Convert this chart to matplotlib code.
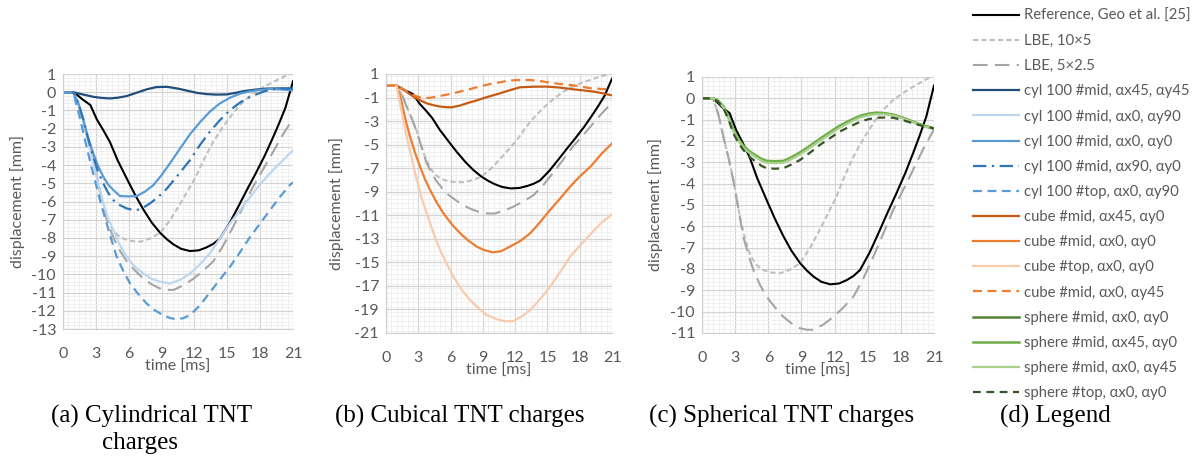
import matplotlib
matplotlib.use("Agg")
import matplotlib.pyplot as plt
from matplotlib.ticker import MultipleLocator

plt.rcParams['axes.unicode_minus'] = False
plt.rcParams['font.family'] = ['Lato', 'DejaVu Sans']

# reference and LBE curves (shared by all panels)
ref_t = [0, 1.0, 1.8, 2.5, 3.1, 3.7, 4.3, 5.0, 5.85, 6.6, 7.35, 8.1, 8.87, 9.5, 10.1, 10.8, 11.6, 12.4,
         13.1, 13.7, 14.3, 15.2, 16.1, 16.8, 17.6, 18.4, 19.1, 19.7, 20.3, 21]
ref_d = [0, 0, -0.4, -0.7, -1.5, -2.1, -2.75, -3.75, -4.77, -5.65, -6.45, -7.15, -7.72, -8.08, -8.36, -8.6,
         -8.72, -8.68, -8.52, -8.33, -8.05, -7.2, -6.17, -5.35, -4.45, -3.5, -2.58, -1.75, -0.86, 0.6]
lbe1_t = [0, 1.0, 1.5, 1.93, 2.4, 2.83, 3.44, 3.9, 4.4, 5.0, 5.55, 6.3, 7.06, 7.9, 8.87, 9.8, 10.65, 11.4,
          12.16, 12.9, 13.7, 14.6, 15.5, 16.4, 17.3, 18.2, 19.1, 20.0, 21]
lbe1_d = [0, 0, -0.8, -1.8, -2.8, -3.8, -5.6, -6.6, -7.4, -7.85, -8.05, -8.17, -8.2, -8.05, -7.72, -7.0,
          -6.17, -5.4, -4.61, -3.65, -2.74, -1.9, -1.17, -0.55, -0.08, 0.25, 0.54, 0.8, 1.1]
lbe2_t = [0, 1.0, 1.5, 1.93, 2.4, 2.83, 3.3, 3.74, 4.2, 4.65, 5.25, 5.85, 6.6, 7.36, 8.1, 8.87, 9.5, 10.1,
          11.0, 11.9, 12.8, 13.7, 14.6, 15.5, 16.4, 17.3, 18.2, 19.1, 20.0, 21]
lbe2_d = [0, 0, -0.8, -1.8, -2.8, -3.85, -5.2, -6.5, -7.35, -8.05, -8.75, -9.3, -9.8, -10.24, -10.55, -10.78,
          -10.85, -10.85, -10.6, -10.24, -9.8, -9.3, -8.45, -7.43, -6.35, -5.24, -4.3, -3.36, -2.4, -1.45]

# cylindrical charges
cyl45_t = [0, 0.94, 1.8, 2.77, 3.5, 4.29, 5.0, 5.82, 6.7, 7.64, 8.5, 9.47, 10.5, 11.6, 12.3, 13.1, 14.0,
           14.95, 15.7, 16.5, 17.5, 18.6, 19.8, 21]
cyl45_d = [0, 0, -0.12, -0.25, -0.31, -0.34, -0.3, -0.21, -0.03, 0.16, 0.28, 0.3, 0.2, 0.05, -0.04, -0.1,
           -0.13, -0.12, -0.04, 0.06, 0.14, 0.2, 0.21, 0.21]
cyl90_t = [0, 0.94, 1.4, 1.86, 2.3, 2.77, 3.2, 3.68, 4.1, 4.6, 5.2, 5.82, 6.5, 7.33, 8.1, 8.86, 9.77, 10.7,
           11.6, 12.5, 13.4, 14.3, 15.25, 16.2, 17.1, 18.0, 18.9, 19.8, 20.7, 21]
cyl90_d = [0, 0, -0.6, -1.5, -2.7, -3.9, -5.0, -6.1, -6.9, -7.57, -8.4, -9.03, -9.55, -9.95, -10.25, -10.4,
           -10.5, -10.3, -9.95, -9.45, -8.85, -8.05, -7.2, -6.45, -5.74, -5.05, -4.45, -3.9, -3.36, -3.2]
cyl00_t = [0, 0.94, 1.4, 1.86, 2.3, 2.77, 3.2, 3.68, 4.1, 4.6, 5.2, 6.0, 6.73, 7.5, 8.25, 9.0, 9.77, 10.7,
           11.6, 12.5, 13.4, 14.3, 15.25, 16.2, 17.1, 18.0, 18.9, 20.0, 21]
cyl00_d = [0, 0, -0.6, -1.53, -2.5, -3.36, -4.05, -4.64, -5.05, -5.37, -5.7, -5.72, -5.7, -5.45, -5.1, -4.55,
           -3.9, -3.08, -2.3, -1.65, -1.07, -0.62, -0.3, -0.07, 0.05, 0.13, 0.18, 0.15, 0.1]
cylx90_t = [0, 0.94, 1.4, 1.86, 2.3, 2.77, 3.2, 3.68, 4.1, 4.6, 5.2, 5.82, 6.3, 6.73, 7.3, 7.95, 8.7, 9.47,
            10.5, 11.6, 12.5, 13.4, 14.3, 15.25, 16.2, 17.1, 18.0, 18.9, 20.0, 21]
cylx90_d = [0, 0, -0.6, -1.5, -2.55, -3.54, -4.35, -5.0, -5.5, -5.92, -6.2, -6.38, -6.45, -6.47, -6.35, -6.1,
            -5.75, -5.3, -4.55, -3.72, -2.9, -2.17, -1.55, -0.98, -0.55, -0.25, -0.03, 0.15, 0.2, 0.2]
cyltop_t = [0, 0.94, 1.5, 2.16, 2.6, 3.07, 3.5, 3.99, 4.45, 4.9, 5.5, 6.12, 6.9, 7.64, 8.4, 9.16, 9.8, 10.4,
            11.0, 11.6, 12.5, 13.4, 14.3, 15.25, 16.2, 17.1, 18.0, 18.9, 19.8, 20.7, 21]
cyltop_d = [0, 0, -1.3, -3.0, -4.1, -5.19, -6.2, -7.2, -8.15, -9.03, -9.8, -10.5, -11.1, -11.6, -11.98,
            -12.24, -12.4, -12.47, -12.4, -12.24, -11.7, -11.0, -10.3, -9.58, -8.75, -7.93, -7.2, -6.47,
            -5.75, -5.1, -4.95]

# cubical charges
cube45_t = [0, 0.99, 1.8, 2.54, 3.2, 3.78, 4.4, 5.02, 5.6, 6.1, 6.8, 7.5, 8.3, 9.04, 9.8, 10.6, 11.5, 12.45,
            13.7, 14.9, 16.1, 17.4, 18.4, 19.3, 20.2, 21]
cube45_d = [0, 0, -0.45, -0.92, -1.25, -1.49, -1.65, -1.77, -1.82, -1.83, -1.7, -1.49, -1.28, -1.06, -0.85,
            -0.64, -0.38, -0.13, -0.08, -0.07, -0.15, -0.3, -0.4, -0.5, -0.65, -0.82]
cube00_t = [0, 0.99, 1.3, 1.6, 1.9, 2.23, 2.7, 3.16, 3.6, 4.09, 4.7, 5.33, 6.1, 6.88, 7.65, 8.43, 9.1, 9.9,
            10.7, 11.5, 12.45, 13.4, 14.3, 15.24, 16.2, 17.1, 18.0, 19.0, 20.0, 21]
cube00_d = [0, 0, -0.8, -2.05, -3.2, -4.32, -5.7, -6.87, -7.9, -8.85, -9.9, -10.83, -11.75, -12.53, -13.15,
            -13.67, -13.95, -14.15, -14.05, -13.67, -13.2, -12.53, -11.6, -10.55, -9.55, -8.57, -7.7, -6.87,
            -5.8, -4.9]
cubetop_t = [0, 0.99, 1.3, 1.6, 1.92, 2.4, 2.85, 3.3, 3.78, 4.4, 5.02, 5.65, 6.27, 7.0, 7.81, 8.6, 9.36,
             10.2, 11.0, 11.8, 12.6, 13.4, 14.3, 15.24, 16.2, 17.1, 18.0, 19.0, 20.0, 21]
cubetop_d = [0, 0, -1.49, -2.9, -4.32, -6.2, -8.0, -9.5, -10.83, -12.5, -13.95, -15.15, -16.22, -17.3, -18.2,
             -18.9, -19.47, -19.8, -20.0, -20.0, -19.6, -19.05, -18.15, -17.07, -15.8, -14.52, -13.6, -12.6,
             -11.65, -10.9]
cubey45_t = [0, 0.99, 1.8, 2.54, 3.0, 3.47, 4.1, 4.71, 5.5, 6.27, 7.2, 8.1, 8.9, 9.67, 10.6, 11.5, 12.45,
             13.4, 14.3, 15.24, 16.2, 17.1, 18.0, 19.0, 20.0, 21]
cubey45_d = [0, 0, -0.4, -0.78, -0.95, -1.06, -1.02, -0.92, -0.78, -0.64, -0.42, -0.21, -0.02, 0.15, 0.3,
             0.45, 0.49, 0.49, 0.4, 0.26, 0.15, 0.07, -0.05, -0.21, -0.27, -0.3]

# spherical charges
sph_t = [0, 1.0, 1.45, 1.93, 2.4, 2.83, 3.3, 3.74, 4.3, 4.95, 5.4, 5.85, 6.6, 7.36, 8.1, 8.87, 9.77, 10.65,
         11.55, 12.46, 13.4, 14.3, 15.05, 15.8, 16.55, 17.3, 18.2, 19.1, 20.0, 21]
sph00_d = [0, 0, -0.12, -0.39, -0.9, -1.49, -1.95, -2.27, -2.52, -2.74, -2.88, -2.97, -2.99, -2.97, -2.8,
           -2.58, -2.27, -1.95, -1.64, -1.33, -1.08, -0.86, -0.76, -0.7, -0.72, -0.78, -0.92, -1.1, -1.27, -1.41]
sph45_d = [0, 0, -0.11, -0.37, -0.87, -1.45, -1.91, -2.22, -2.48, -2.7, -2.84, -2.93, -2.95, -2.93, -2.76,
           -2.53, -2.22, -1.9, -1.59, -1.28, -1.03, -0.82, -0.72, -0.67, -0.7, -0.76, -0.91, -1.1, -1.28, -1.43]
sphy45_d = [0, 0, -0.13, -0.41, -0.93, -1.53, -1.99, -2.32, -2.57, -2.79, -2.93, -3.02, -3.04, -3.02, -2.85,
            -2.63, -2.32, -2.0, -1.69, -1.38, -1.12, -0.9, -0.8, -0.74, -0.75, -0.8, -0.94, -1.12, -1.29, -1.45]
sphtop_d = [0, 0, -0.15, -0.45, -1.0, -1.64, -2.1, -2.42, -2.75, -3.0, -3.17, -3.28, -3.3, -3.28, -3.1,
            -2.89, -2.55, -2.19, -1.88, -1.56, -1.32, -1.1, -0.98, -0.91, -0.9, -0.91, -1.03, -1.17, -1.3, -1.41]

grey_txt = '#595959'

fig = plt.figure(figsize=(11.97, 4.61), dpi=100)
axa = fig.add_axes([0.0526, 0.2863, 0.1922, 0.5531])
axb = fig.add_axes([0.3225, 0.2777, 0.1888, 0.5618])
axc = fig.add_axes([0.5865, 0.2777, 0.1938, 0.5553])

handles = {}


def shared(ax):
    handles['ref'], = ax.plot(ref_t, ref_d, color='black', lw=1.5)
    handles['lbe1'], = ax.plot(lbe1_t, lbe1_d, color='#bfbfbf', lw=1.5, dashes=(2.5, 1.5))
    handles['lbe2'], = ax.plot(lbe2_t, lbe2_d, color='#a5a5a5', lw=1.5, dashes=(7, 3.5))


def style(ax, ymin, ymax, ystep, yminor, labx):
    ax.set_xlim(0, 21)
    ax.set_ylim(ymin, ymax)
    ax.xaxis.set_major_locator(MultipleLocator(3))
    ax.xaxis.set_minor_locator(MultipleLocator(0.5))
    ax.set_yticks(list(range(ymax, ymin - 1, -ystep)))
    ax.yaxis.set_minor_locator(MultipleLocator(yminor))
    ax.grid(which='major', color='#d4d4d4', lw=0.9)
    ax.grid(which='minor', color='#eeeeee', lw=0.6)
    ax.set_axisbelow(True)
    for s in ['top', 'right']:
        ax.spines[s].set_visible(False)
    for s in ['left', 'bottom']:
        ax.spines[s].set_color('#cfcfcf')
    ax.tick_params(which='both', length=0, labelsize=11.5, labelcolor=grey_txt)
    ax.tick_params(axis='x', pad=13)
    ax.tick_params(axis='y', pad=5)
    ax.set_xlabel('time [ms]', fontsize=11.5, color=grey_txt)
    ax.xaxis.set_label_coords(0.5, -0.12)
    ax.set_ylabel('displacement [mm]', fontsize=11.5, color=grey_txt)
    ax.yaxis.set_label_coords(labx, 0.5)


# (a) cylindrical
shared(axa)
handles['cyl45'], = axa.plot(cyl45_t, cyl45_d, color='#1f4e79', lw=1.6)
handles['cyl90'], = axa.plot(cyl90_t, cyl90_d, color='#bdd7ee', lw=1.6)
handles['cyl00'], = axa.plot(cyl00_t, cyl00_d, color='#5b9bd5', lw=1.6)
handles['cylx90'], = axa.plot(cylx90_t, cylx90_d, color='#2e75b6', lw=1.6, dashes=(6, 2.5, 1, 2.5))
handles['cyltop'], = axa.plot(cyltop_t, cyltop_d, color='#5b9bd5', lw=1.6, dashes=(4, 2.5))
style(axa, -13, 1, 1, 0.2, -0.165)

# (b) cubical
shared(axb)
handles['cube45'], = axb.plot(cube45_t, cube45_d, color='#c55a11', lw=1.6)
handles['cube00'], = axb.plot(cube00_t, cube00_d, color='#ed7d31', lw=1.6)
handles['cubetop'], = axb.plot(cubetop_t, cubetop_d, color='#f8cbad', lw=1.6)
handles['cubey45'], = axb.plot(cubey45_t, cubey45_d, color='#ed7d31', lw=1.6, dashes=(4, 2.5))
style(axb, -21, 1, 2, 0.4, -0.186)

# (c) spherical
shared(axc)
handles['sph00'], = axc.plot(sph_t, sph00_d, color='#548235', lw=1.8)
handles['sph45'], = axc.plot(sph_t, sph45_d, color='#70ad47', lw=1.8)
handles['sphy45'], = axc.plot(sph_t, sphy45_d, color='#a9d18e', lw=1.6)
handles['sphtop'], = axc.plot(sph_t, sphtop_d, color='#375623', lw=1.6, dashes=(3.5, 2.5))
style(axc, -11, 1, 1, 0.2, -0.168)

labels = {
    'ref': 'Reference, Geo et al. [25]',
    'lbe1': 'LBE, 10×5',
    'lbe2': 'LBE, 5×2.5',
    'cyl45': 'cyl 100 #mid, αx45, αy45',
    'cyl90': 'cyl 100 #mid, αx0, αy90',
    'cyl00': 'cyl 100 #mid, αx0, αy0',
    'cylx90': 'cyl 100 #mid, αx90, αy0',
    'cyltop': 'cyl 100 #top, αx0, αy90',
    'cube45': 'cube #mid, αx45, αy0',
    'cube00': 'cube #mid, αx0, αy0',
    'cubetop': 'cube #top, αx0, αy0',
    'cubey45': 'cube #mid, αx0, αy45',
    'sph00': 'sphere #mid, αx0, αy0',
    'sph45': 'sphere #mid, αx45, αy0',
    'sphy45': 'sphere #mid, αx0, αy45',
    'sphtop': 'sphere #top, αx0, αy0',
}
keys = list(labels.keys())
leg = fig.legend([handles[k] for k in keys], [labels[k] for k in keys],
                 loc='upper left', bbox_to_anchor=(0.808, 0.9935), frameon=False,
                 fontsize=10.7, handlelength=3.1, handletextpad=0.3,
                 labelspacing=0.75, borderaxespad=0.0)
for t in leg.get_texts():
    t.set_color(grey_txt)

cap = dict(fontsize=18, family='Liberation Serif', color='black', ha='center', va='center')
fig.text(152 / 1197, 1 - 416 / 461, '(a) Cylindrical TNT', **cap)
fig.text(140 / 1197, 1 - 443 / 461, 'charges', **cap)
fig.text(460 / 1197, 1 - 416 / 461, '(b) Cubical TNT charges', **cap)
fig.text(782 / 1197, 1 - 416 / 461, '(c) Spherical TNT charges', **cap)
fig.text(1055 / 1197, 1 - 416 / 461, '(d) Legend', **cap)

fig.savefig('out.png', dpi=100)
